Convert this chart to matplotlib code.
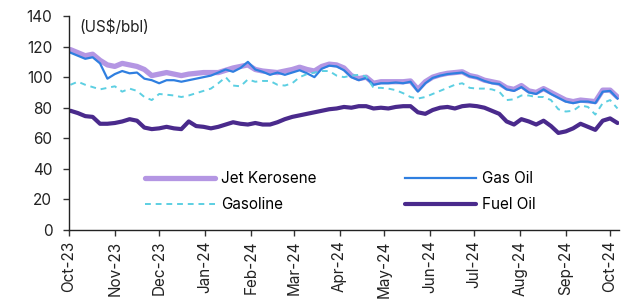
import matplotlib
matplotlib.use("Agg")
import matplotlib.pyplot as plt
import matplotlib.dates as mdates
import numpy as np
import pandas as pd

plt.rcParams['font.family'] = ['Inter', 'DejaVu Sans']

dates = pd.date_range("2023-10-02", periods=75, freq="5D")

jet_kerosene = [118, 116, 114, 115, 111, 108, 107, 109, 108, 107, 105, 101, 102, 103, 102,
                101, 102, 102.5, 103, 103, 103, 104.5, 106, 107, 108, 105, 104, 103.5, 103, 104,
                105, 106.5, 105, 104, 107, 108.5, 108, 106, 101, 99, 100, 96, 97, 97, 97,
                97, 97.5, 92, 97, 100, 101.5, 102.5, 103, 103.5, 101, 100, 98, 97, 96, 93,
                92, 94.5, 91, 90, 92.5, 90, 87.5, 85, 84, 85, 84.5, 84, 91.5, 91.5, 87]

gas_oil = [116, 114, 112, 113, 109, 99, 102, 104, 102.5, 103, 99, 98, 96, 98, 98,
           97, 98, 99, 100, 101, 103, 105, 103.5, 106, 110, 105, 103.5, 101.5, 103, 101.5,
           103, 104.5, 102.5, 100, 105.5, 107.5, 107, 104.5, 100, 98, 99.5, 95, 96, 96, 96.5,
           96, 97, 90.5, 96, 99.5, 101, 102, 102.5, 103, 100.5, 99.5, 97.5, 96, 95.5, 92,
           91, 93.5, 90, 89, 92, 89, 86.5, 84, 83, 84, 84, 83, 90.5, 91, 86]

gasoline = [95, 97, 95, 93.5, 92, 93, 94, 90.5, 92.5, 91, 87, 85, 89, 88.5, 88,
            87, 88, 89.5, 91, 92.5, 96, 100, 94.5, 94, 98.5, 97, 97.5, 97.5, 95, 94.5,
            96, 100, 102, 103, 104, 104, 101, 100, 101, 101.5, 100.5, 93, 93, 92.5, 91.5,
            89.5, 87, 86, 87, 89, 91, 93, 95, 96, 93, 92.5, 92.5, 92, 90.5, 85,
            85.5, 88, 88, 87, 87, 85, 79, 77.5, 78, 81.5, 80.5, 75.5, 83, 85, 79.5]

fuel_oil = [78, 76.5, 74.5, 74, 69.5, 69.5, 70, 71, 72.5, 71.5, 67, 66, 66.5, 67.5, 66.5,
            66, 71, 68, 67.5, 66.5, 67.5, 69, 70.5, 69.5, 69, 70, 69, 69, 70.5, 72.5,
            74, 75, 76, 77, 78, 79, 79.5, 80.5, 80, 81, 81, 79.5, 80, 79.5, 80.5,
            81, 81, 77, 76, 78.5, 80, 80.5, 79.5, 81, 81.5, 81, 80, 78, 76, 71,
            69, 72.5, 71, 69, 71.5, 68, 63.5, 64.5, 66.5, 69.5, 67.5, 65.5, 71.5, 73, 70]

month_ticks = pd.date_range("2023-10-01", "2024-10-01", freq="MS")
y_ticks = [0, 20, 40, 60, 80, 100, 120, 140]

fig = plt.figure(figsize=(6.3, 3.04), dpi=100)
ax = fig.add_axes([0.1095, 0.2434, 0.873, 0.704])

l_jet, = ax.plot(dates, jet_kerosene, color="#b496e3", lw=3.8, label="Jet Kerosene", solid_capstyle="round")
l_gas, = ax.plot(dates, gas_oil, color="#2f7fe0", lw=1.6, label="Gas Oil")
l_gsl, = ax.plot(dates, gasoline, color="#5ccfe2", lw=1.4, ls=(0, (3, 2.5)), label="Gasoline")
l_fuel, = ax.plot(dates, fuel_oil, color="#4a2a8c", lw=3.0, label="Fuel Oil", solid_capstyle="round")

ax.set_xlim(pd.Timestamp("2023-10-01"), pd.Timestamp("2024-10-07"))
ax.set_ylim(0, 140)
ax.set_yticks(y_ticks)
ax.set_xticks(month_ticks)
ax.xaxis.set_major_formatter(mdates.DateFormatter("%b-%y"))
plt.setp(ax.get_xticklabels(), rotation=90)
ax.tick_params(axis="both", labelsize=11, length=4, width=1, color="#333333", labelcolor="#222222")
ax.tick_params(axis="y", pad=8)
for s in ["top", "right"]:
    ax.spines[s].set_visible(False)
for s in ["left", "bottom"]:
    ax.spines[s].set_color("#222222")
    ax.spines[s].set_linewidth(1)

ax.text(0.018, 0.985, "(US$/bbl)", transform=ax.transAxes, fontsize=11, va="top", ha="left", color="#222222")

ax.legend([l_jet, l_gsl, l_gas, l_fuel], ["Jet Kerosene", "Gasoline", "Gas Oil", "Fuel Oil"],
          loc="upper left", bbox_to_anchor=(0.113, 0.34), ncol=2, frameon=False, fontsize=11,
          handlelength=4.6, columnspacing=5.8, handletextpad=0.4, labelspacing=0.75)

fig.savefig("out.png", dpi=100)
